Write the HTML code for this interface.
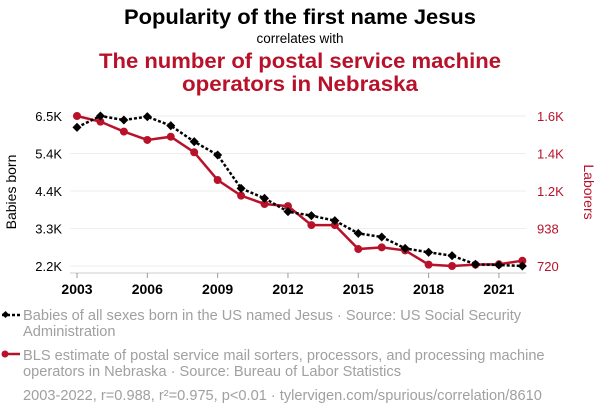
<!DOCTYPE html>
<html><head><meta charset="utf-8"><style>
body{margin:0;background:#fff}
svg{display:block;font-family:"Liberation Sans",Arial,sans-serif}
</style></head><body>
<svg id="chart" width="600" height="414" viewBox="0 0 600 414">
<text x="300" y="24" text-anchor="middle" font-size="21" font-weight="bold" textLength="352" lengthAdjust="spacingAndGlyphs" fill="#000">Popularity of the first name Jesus</text>
<text x="300" y="43" text-anchor="middle" font-size="13.5" fill="#000">correlates with</text>
<text x="300" y="68" text-anchor="middle" font-size="21" font-weight="bold" fill="#b8122b" textLength="402" lengthAdjust="spacingAndGlyphs">The number of postal service machine</text>
<text x="300" y="91" text-anchor="middle" font-size="21" font-weight="bold" fill="#b8122b" textLength="236" lengthAdjust="spacingAndGlyphs">operators in Nebraska</text>
<g id="grid"></g>
<g id="axes"></g>
<g id="series"></g>
<text transform="translate(16,192) rotate(-90)" text-anchor="middle" font-size="14" fill="#000">Babies born</text>
<text transform="translate(584,192) rotate(90)" text-anchor="middle" font-size="14" fill="#b8122b">Laborers</text>
<g>
<line x1="2" y1="315" x2="20" y2="315" stroke="#000" stroke-width="2.5" stroke-dasharray="3,2"/>
<rect x="3" y="312" width="5" height="5" fill="#000" transform="rotate(45 5.5 314.5)"/>
<text x="23" y="320" font-size="14.6" fill="#a0a0a0">Babies of all sexes born in the US named Jesus · Source: US Social Security</text>
<text x="23" y="336" font-size="14.6" fill="#a0a0a0">Administration</text>
</g>
<g>
<line x1="2" y1="354" x2="20" y2="354" stroke="#b8122b" stroke-width="2.5"/>
<circle cx="5" cy="354" r="3.5" fill="#b8122b"/>
<text x="23" y="360" font-size="14.6" fill="#a0a0a0">BLS estimate of postal service mail sorters, processors, and processing machine</text>
<text x="23" y="376" font-size="14.6" fill="#a0a0a0">operators in Nebraska · Source: Bureau of Labor Statistics</text>
</g>
<text x="23" y="400" font-size="14.6" fill="#a0a0a0">2003-2022, r=0.988, r²=0.975, p&lt;0.01 · tylervigen.com/spurious/correlation/8610</text>
</svg>
<script>
const years=[2003,2004,2005,2006,2007,2008,2009,2010,2011,2012,2013,2014,2015,2016,2017,2018,2019,2020,2021,2022];
const babies=[6175,6500,6385,6481,6223,5764,5382,4426,4140,3758,3643,3500,3136,3031,2706,2592,2496,2248,2229,2200];
const laborers=[1596,1563,1505,1456,1475,1384,1222,1131,1082,1070,959,959,819,829,811,728,720,728,730,751];
const leftTicks=[2200,3275,4350,5425,6500];
const leftLabels=["2.2K","3.3K","4.4K","5.4K","6.5K"];
const rightTicks=[720,939,1158,1377,1596];
const rightLabels=["720","938","1.2K","1.4K","1.6K"];
const xTicks=[2003,2006,2009,2012,2015,2018,2021];
const NS="http://www.w3.org/2000/svg";
const X=y=>77+(y-2003)*23.44;
const YL=v=>266-(v-2200)/4300*150;
const YR=v=>266-(v-720)/876*150;
function mk(tag,attrs,parent){const e=document.createElementNS(NS,tag);for(const k in attrs)e.setAttribute(k,attrs[k]);parent.appendChild(e);return e;}
const grid=document.getElementById('grid'),axes=document.getElementById('axes'),ser=document.getElementById('series');
leftTicks.forEach((t,i)=>{
 const g=mk('line',{x1:70,x2:526,y1:YL(t),y2:YL(t),stroke:'#eee','stroke-width':1},grid);
 
 
 const tl=mk('text',{x:62,y:YL(t)+5,'text-anchor':'end','font-size':13,fill:'#000'},axes);tl.textContent=leftLabels[i];
 
 
});
rightTicks.forEach((t,i)=>{
 const tl=mk('text',{x:537,y:YR(t)+5,'font-size':13,fill:'#b8122b'},axes);tl.textContent=rightLabels[i];
 
 
});
mk('line',{x1:70,x2:526,y1:273,y2:273,stroke:'#ccc'},axes);
xTicks.forEach(y=>{
 mk('line',{x1:X(y),x2:X(y),y1:273,y2:278,stroke:'#999'},axes);
 const tl=mk('text',{x:X(y),y:294,'text-anchor':'middle','font-size':14,'font-weight':'bold',fill:'#000'},axes);tl.textContent=y;
 
 
});
const rl=mk('polyline',{points:years.map((y,i)=>X(y)+','+YR(laborers[i])).join(' '),fill:'none',stroke:'#b8122b','stroke-width':2.5},ser);


years.forEach((y,i)=>{const c=mk('circle',{cx:X(y),cy:YR(laborers[i]),r:4,fill:'#b8122b'},ser);
 
 });
const bl=mk('polyline',{points:years.map((y,i)=>X(y)+','+YL(babies[i])).join(' '),fill:'none',stroke:'#000','stroke-width':2.5,'stroke-dasharray':'3,2'},ser);


years.forEach((y,i)=>{const cx=X(y),cy=YL(babies[i]);
 const r=mk('rect',{x:cx-3.2,y:cy-3.2,width:6.4,height:6.4,fill:'#000',transform:`rotate(45 ${cx} ${cy})`},ser);
 
 });
</script>
</body></html>
